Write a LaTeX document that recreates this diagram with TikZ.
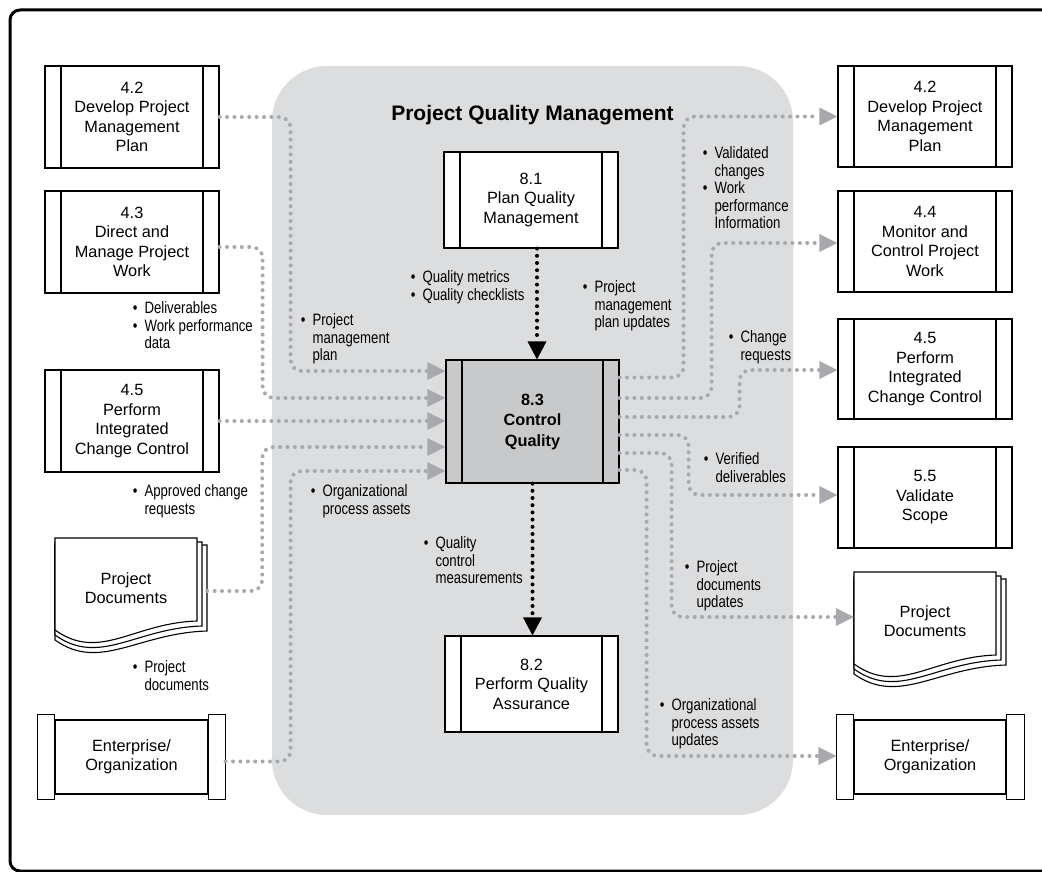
\documentclass[tikz,border=0pt]{standalone}
\usepackage{fontspec}
\setmainfont{Liberation Sans}
\newfontfamily\condfont[FakeStretch=0.8]{Liberation Sans}
\usetikzlibrary{arrows.meta,calc}
\definecolor{regiongray}{HTML}{DCDDDF}
\definecolor{dotgray}{HTML}{A7A9AC}
\definecolor{cqgray}{HTML}{C8C9CB}
\tikzset{
  procbox/.style={draw, line width=1.2pt, fill=white, minimum width=174pt, minimum height=102pt,
    inner sep=0pt, align=center, font=\fontsize{16.3}{19.5}\selectfont,
    path picture={
      \draw[line width=1.2pt] ([xshift=16pt]path picture bounding box.north west) -- ([xshift=16pt]path picture bounding box.south west);
      \draw[line width=1.2pt] ([xshift=-16pt]path picture bounding box.north east) -- ([xshift=-16pt]path picture bounding box.south east);}},
  entbox/.style={draw, line width=1.2pt, fill=white, minimum width=153pt, minimum height=74pt,
    inner sep=0pt, align=center, font=\fontsize{16.3}{19.5}\selectfont},
  doctext/.style={minimum width=142pt, minimum height=60pt, inner sep=0pt, align=center, font=\fontsize{16.3}{19.5}\selectfont},
  capbox/.style={draw, line width=1.2pt, fill=white},
  docpage/.style={draw, line width=1.1pt, fill=white},
  flow/.style={draw=dotgray, line width=4pt, line cap=round, dash pattern=on 0pt off 7.4pt,
    rounded corners=11pt, -{Triangle[length=18pt,width=18pt,line width=0pt,fill=dotgray]}},
  mainflow/.style={draw=black, line width=4pt, line cap=round, dash pattern=on 0pt off 7.2pt,
    -{Triangle[length=18pt,width=19pt,line width=0pt,fill=black]}},
  lbl/.style={inner sep=0pt, anchor=base west, font=\condfont\fontsize{16.5}{17.6}\selectfont},
  ttl/.style={inner sep=0pt, anchor=base, font=\bfseries\fontsize{21}{24}\selectfont}
}
\newcommand\drawdoc[2]{%
  \foreach \d/\e in {10/7,5/4,0/0}{
    \draw[docpage] (#1,#2+\e) -- (#1+142+\d,#2+\e) -- (#1+142+\d,#2+83+\d)
      .. controls (#1+78+\d*0.5,#2+85+\d) and (#1+45,#2+124+\d) .. (#1,#2+92+\d) -- cycle;
  }}
\newcommand\bl[1]{\begin{tabular}[t]{@{}l@{\hspace{7pt}}l@{}}#1\end{tabular}}
\begin{document}
\begin{tikzpicture}[x=1pt,y=-1pt]
\useasboundingbox (0,0) rectangle (1042,872);
\clip (0,0) rectangle (1042,872);
\fill[white] (0,0) rectangle (1042,872);
\draw[line width=3pt, rounded corners=10pt] (1050,10) -- (10,10) -- (10,871) -- (1050,871);
% grey region
\fill[regiongray, rounded corners=55pt] (272,66) rectangle (793,815);
\node[ttl] (title) at (532.5,120.5) {Project Quality Management};

% left column
\node[procbox] (L42) at (132,117) {4.2\\Develop Project\\Management\\Plan};
\node[procbox] (L43) at (132,242) {4.3\\Direct and\\Manage Project\\Work};
\node[procbox] (L45) at (132,421) {4.5\\Perform\\Integrated\\Change Control};
\drawdoc{55}{538}
\node[doctext] (LPD) at (126,588) {Project\\Documents};
\node[entbox] (LEnt) at (131.5,757) {Enterprise/\\Organization};
\draw[capbox] ([xshift=-17pt,yshift=5pt]LEnt.north west) rectangle ([yshift=-5pt]LEnt.south west);
\draw[capbox] ([yshift=5pt]LEnt.north east) rectangle ([xshift=17pt,yshift=-5pt]LEnt.south east);

% centre
\node[procbox, minimum height=96pt] (P81) at (531,200) {8.1\\Plan Quality\\Management};
\node[procbox, minimum width=173pt, minimum height=123pt, fill=cqgray, font=\bfseries\fontsize{16.3}{20.5}\selectfont] (P83) at (532.5,421.5) {8.3\\Control\\Quality};
\node[procbox, minimum width=173pt, minimum height=96pt] (P82) at (531.5,684) {8.2\\Perform Quality\\Assurance};

% right column
\node[procbox, minimum height=101pt] (R42) at (925,116.5) {4.2\\Develop Project\\Management\\Plan};
\node[procbox, minimum height=101pt] (R44) at (925,241.5) {4.4\\Monitor and\\Control Project\\Work};
\node[procbox, minimum height=100pt] (R45) at (925,369) {4.5\\Perform\\Integrated\\Change Control};
\node[procbox, minimum height=101pt] (R55) at (925,497.5) {5.5\\Validate\\Scope};
\drawdoc{854}{572}
\node[doctext] (RPD) at (925,621) {Project\\Documents};
\node[entbox, minimum width=152pt] (REnt) at (930,757) {Enterprise/\\Organization};
\draw[capbox] ([xshift=-17pt,yshift=5pt]REnt.north west) rectangle ([yshift=-5pt]REnt.south west);
\draw[capbox] ([yshift=5pt]REnt.north east) rectangle ([xshift=18pt,yshift=-5pt]REnt.south east);

% inputs
\draw[flow] (L42.east) -- ++(71,0) |- ([yshift=50.5pt]P83.west);
\draw[flow] ([yshift=-5pt]L43.east) -- ++(43,0) |- ([yshift=23.5pt]P83.west);
\draw[flow] (L45.east) -- (L45.east -| P83.west);
\draw[flow] ([xshift=10pt,yshift=-3pt]LPD.east) -- ++(55,0) |- ([yshift=-25.5pt]P83.west);
\draw[flow] ([xshift=17pt,yshift=-4.5pt]LEnt.east) -- ++(65,0) |- ([yshift=-49.5pt]P83.west);

% outputs
\draw[flow] ([yshift=44pt]P83.east) -- ++(64,0) |- (R42.west);
\draw[flow] ([yshift=23.5pt]P83.east) -- ++(92,0) |- ([yshift=-1.5pt]R44.west);
\draw[flow] ([yshift=4.5pt]P83.east) -- ++(120,0) |- ([yshift=-1pt]R45.west);
\draw[flow] ([yshift=-13.5pt]P83.east) -- ++(69,0) |- ([yshift=2.5pt]R55.west);
\draw[flow] ([yshift=-31.5pt]P83.east) -- ++(52,0) |- ([yshift=4pt]RPD.west);
\draw[flow] ([yshift=-48.5pt]P83.east) -- ++(27,0) |- ([xshift=-17pt,yshift=1pt]REnt.west);

% main flow
\draw[mainflow] ([xshift=6pt]P81.south) -- ([xshift=4.5pt]P83.north);
\draw[mainflow] (P83.south) -- (P83.south |- P82.north);

% labels
\node[lbl] (a1) at (132.7,313.5) {\bl{•&Deliverables\\•&Work performance\\&data}};
\node[lbl] (a2) at (132.7,496.5) {\bl{•&Approved change\\&requests}};
\node[lbl] (a3) at (300.7,325.5) {\bl{•&Project\\&management\\&plan}};
\node[lbl] (a4) at (310.7,496.5) {\bl{•&Organizational\\&process assets}};
\node[lbl] (a5) at (132.7,672.5) {\bl{•&Project\\&documents}};
\node[lbl] (a6) at (410.7,282.5) {\bl{•&Quality metrics\\•&Quality checklists}};
\node[lbl] (a7) at (582.7,292.5) {\bl{•&Project\\&management\\&plan updates}};
\node[lbl] (a8) at (423.7,548.5) {\bl{•&Quality\\&control\\&measurements}};
\node[lbl] (a9) at (702.7,158.5) {\bl{•&Validated\\&changes\\•&Work\\&performance\\&Information}};
\node[lbl] (a10) at (728.7,342.5) {\bl{•&Change\\&requests}};
\node[lbl] (a11) at (703.7,464.5) {\bl{•&Verified\\&deliverables}};
\node[lbl] (a12) at (684.7,572.5) {\bl{•&Project\\&documents\\&updates}};
\node[lbl] (a13) at (659.7,710.5) {\bl{•&Organizational\\&process assets\\&updates}};
\end{tikzpicture}
\end{document}
